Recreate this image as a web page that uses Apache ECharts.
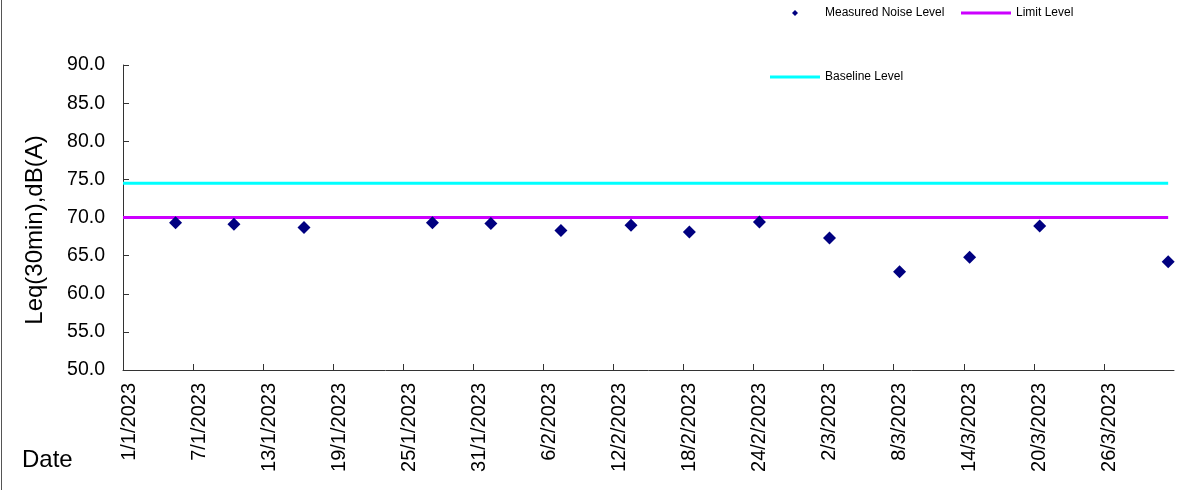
<!DOCTYPE html>
<html><head><meta charset="utf-8">
<script src="https://cdn.jsdelivr.net/npm/echarts@6/dist/echarts.min.js"></script>
<style>html,body{margin:0;padding:0;background:#fff}#c{width:1189px;height:490px}</style>
</head><body><div id="c"></div>
<script>
// ---- data ----
const axisStartDate = '2023-01-01';
const axisEndDays = 90;          // 1/4/2023
const tickStepDays = 6;
const measureTimes = ['2023-01-05 12:00', '2023-01-10 12:00', '2023-01-16 12:00', '2023-01-27 12:00',
  '2023-02-01 12:00', '2023-02-07 12:00', '2023-02-13 12:00', '2023-02-18 12:00', '2023-02-24 12:00',
  '2023-03-02 12:00', '2023-03-08 12:00', '2023-03-14 12:00', '2023-03-20 12:00', '2023-03-31 12:00'];
const measuredLevels = [69.3, 69.1, 68.7, 69.3, 69.2, 68.3, 69.0, 68.1, 69.4, 67.3, 62.9, 64.8, 68.9, 64.2];
const limitLevel = 70.0;
const baselineLevel = 74.5;
const levelLineTimes = ['2023-01-01 00:00', '2023-03-31 12:00'];
const yMin = 50, yMax = 90, yStep = 5;

// ---- helpers ----
const FONT = '"Liberation Sans", Arial, sans-serif';
function parseUTC(s) {
  const [d, t] = s.split(' ');
  const [y, m, dd] = d.split('-').map(Number);
  let h = 0, mi = 0;
  if (t) [h, mi] = t.split(':').map(Number);
  return Date.UTC(y, m - 1, dd, h, mi);
}
const origin = parseUTC(axisStartDate);
const dayOffset = s => (parseUTC(s) - origin) / 86400000;
function fmtDate(v) {
  const d = new Date(origin + Math.round(v) * 86400000);
  return d.getUTCDate() + '/' + (d.getUTCMonth() + 1) + '/' + d.getUTCFullYear();
}

const chart = echarts.init(document.getElementById('c'), null, {renderer: 'canvas'});
const axisColor = '#333';
const legendText = {fontSize: 12, fontFamily: FONT, color: '#000'};
chart.setOption({
  animation: false,
  backgroundColor: '#fff',
  grid: {left: 123, right: 15, top: 65, bottom: 120, containLabel: false, outerBoundsMode: 'none'},
  xAxis: {
    type: 'value', min: 0, max: axisEndDays, interval: tickStepDays,
    axisLine: {show: true, onZero: false, lineStyle: {color: axisColor, width: 1}},
    axisTick: {show: true, inside: true, length: 6, lineStyle: {color: axisColor}},
    splitLine: {show: false},
    axisLabel: {rotate: 90, margin: 13, fontSize: 20, fontFamily: FONT, color: '#000',
      showMaxLabel: false,
      formatter: v => '{t|' + fmtDate(v) + '}',
      rich: {t: {fontSize: 20, fontFamily: FONT, color: '#000', padding: [12, 0, 0, 0]}}}
  },
  yAxis: {
    type: 'value', min: yMin, max: yMax, interval: yStep,
    axisLine: {show: true, lineStyle: {color: axisColor, width: 1}},
    axisTick: {show: true, inside: true, length: 6, lineStyle: {color: axisColor}},
    splitLine: {show: false},
    axisLabel: {margin: 18, fontSize: 19.5, fontFamily: FONT, color: '#000', formatter: v => v.toFixed(1)}
  },
  legend: [
    {data: [{name: 'Measured Noise Level', icon: 'diamond'}], left: 792, top: 7, padding: 0,
      itemWidth: 6, itemHeight: 6,
      textStyle: Object.assign({padding: [0, 0, 0, 22]}, legendText)},
    {data: [{name: 'Limit Level', icon: 'rect'}], left: 961, top: 7, padding: 0, itemWidth: 50, itemHeight: 3,
      textStyle: legendText},
    {data: [{name: 'Baseline Level', icon: 'rect'}], left: 770, top: 71, padding: 0, itemWidth: 50, itemHeight: 3,
      textStyle: legendText}
  ],
  graphic: [
    {type: 'line', shape: {x1: 1.5, y1: 0, x2: 1.5, y2: 490}, style: {stroke: '#555', lineWidth: 1}, silent: true},
    {type: 'text', x: 35, y: 230, rotation: Math.PI / 2,
      style: {text: 'Leq(30min),dB(A)', font: '24px ' + FONT, fill: '#000', textAlign: 'center', textVerticalAlign: 'middle'}},
    {type: 'text', x: 22, y: 460,
      style: {text: 'Date', font: '24px ' + FONT, fill: '#000', textAlign: 'left', textVerticalAlign: 'middle'}}
  ],
  series: [
    {name: 'Baseline Level', type: 'line', symbol: 'none', z: 2,
      lineStyle: {color: '#00FFFF', width: 3}, itemStyle: {color: '#00FFFF'},
      data: levelLineTimes.map(t => [dayOffset(t), baselineLevel])},
    {name: 'Limit Level', type: 'line', symbol: 'none', z: 2,
      lineStyle: {color: '#CC00FF', width: 3}, itemStyle: {color: '#CC00FF'},
      data: levelLineTimes.map(t => [dayOffset(t), limitLevel])},
    {name: 'Measured Noise Level', type: 'scatter', symbol: 'diamond', symbolSize: 13, z: 5,
      itemStyle: {color: '#000080', opacity: 1},
      data: measureTimes.map((t, i) => [dayOffset(t), measuredLevels[i]])}
  ]
});
</script></body></html>
